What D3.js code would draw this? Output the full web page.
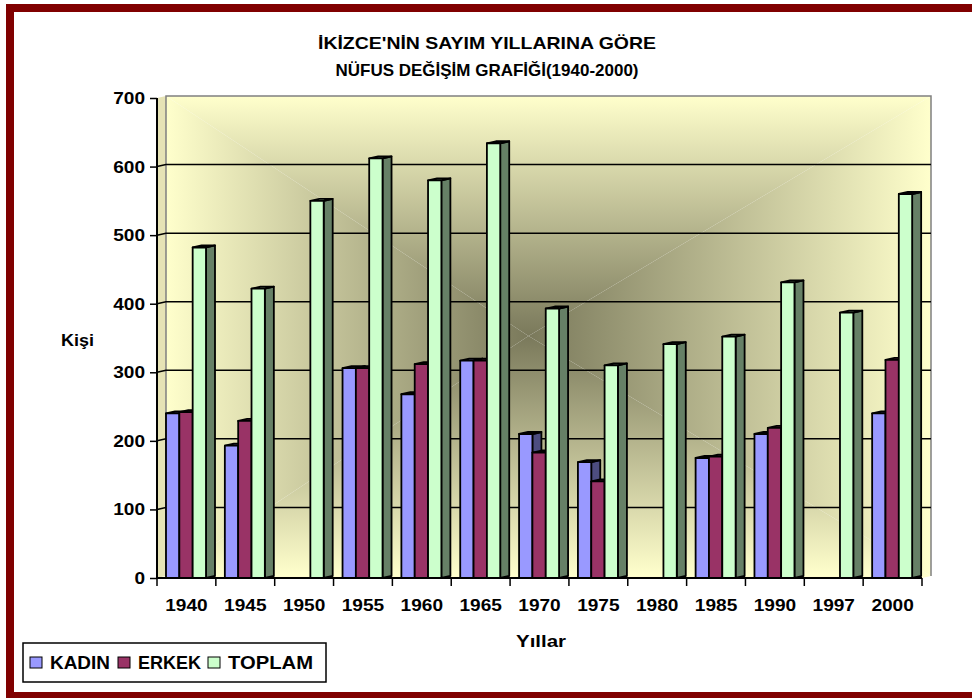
<!DOCTYPE html>
<html>
<head>
<meta charset="utf-8">
<script src="https://cdn.jsdelivr.net/npm/d3@7"></script>
<style>
  body { margin: 0; background: #fff; }
  text { font-family: "Liberation Sans", Arial, sans-serif; font-weight: bold; fill: #000; }
</style>
</head>
<body>
<div id="chart"></div>
<script>
// data
var years  = ["1940", "1945", "1950", "1955", "1960", "1965", "1970", "1975", "1980", "1985", "1990", "1997", "2000"];
var kadin  = [240, 193, null, 306, 268, 317, 210, 169, null, 175, 210, null, 240];
var erkek  = [242, 229, null, 306, 312, 317, 183, 141, null, 177, 219, null, 318];
var toplam = [482, 422, 550, 612, 580, 634, 393, 310, 341, 352, 431, 387, 560];
var seriesNames = ["KADIN", "ERKEK", "TOPLAM"];
var yTicks = [0, 100, 200, 300, 400, 500, 600, 700];

var width = 972, height = 698;
var dx = 9, dy = -2;          // 3d depth offset

var svg = d3.select("#chart").append("svg")
    .attr("width", width)
    .attr("height", height);

var x = d3.scaleBand().domain(years).range([157, 922]);
var xs = d3.scaleBand().domain(seriesNames).range([9, 49]);
var y = d3.scaleLinear().domain([0, 700]).range([578, 98]);

var front = d3.scaleOrdinal().domain(seriesNames).range(["#9999ff", "#993366", "#ccffcc"]);
var side  = d3.scaleOrdinal().domain(seriesNames).range(["#4d4d80", "#4d1a33", "#668066"]);
var top_  = d3.scaleOrdinal().domain(seriesNames).range(["#7373bf", "#73264d", "#99bf99"]);

// text is drawn a bit wider than Liberation gives, like the excel original
function fit(sel, perChar) {
  sel.attr("textLength", function() { return this.textContent.length * perChar; })
     .attr("lengthAdjust", "spacingAndGlyphs");
}

// walls
var x0 = 157 + dx, x1 = 922 + dx, yt = y(700) + dy, yb = y(0) + dy;
var cx = (x0 + x1) / 2 - 20, cy = (yt + yb) / 2;
var defs = svg.append("defs");
function grad(id, ax, ay, bx, by) {
  var g = defs.append("linearGradient").attr("id", id)
      .attr("gradientUnits", "userSpaceOnUse")
      .attr("x1", ax).attr("y1", ay).attr("x2", bx).attr("y2", by);
  g.append("stop").attr("offset", 0).attr("stop-color", "#7a795b");
  g.append("stop").attr("offset", 1).attr("stop-color", "#ffffcc");
}
grad("gTop", cx, cy, cx, yt);
grad("gBot", cx, cy, cx, yb);
grad("gLeft", cx, cy, x0, cy);
grad("gRight", cx, cy, x1, cy);

var wall = svg.append("g");
wall.append("path").attr("d", d3.line()([[x0, yt], [x1, yt], [cx, cy]])).attr("fill", "url(#gTop)");
wall.append("path").attr("d", d3.line()([[x0, yb], [x1, yb], [cx, cy]])).attr("fill", "url(#gBot)");
wall.append("path").attr("d", d3.line()([[x0, yt], [x0, yb], [cx, cy]])).attr("fill", "url(#gLeft)");
wall.append("path").attr("d", d3.line()([[x1, yt], [x1, yb], [cx, cy]])).attr("fill", "url(#gRight)");
// side wall and floor
wall.append("path").attr("d", d3.line()([[157, y(700)], [x0, yt], [x0, yb], [157, y(0)]]) + "Z")
    .attr("fill", "#e6e3b5");
wall.append("path").attr("d", d3.line()([[157, y(0)], [x0, yb], [x1, yb], [922, y(0)]]) + "Z")
    .attr("fill", "#fffccc");
wall.append("path").attr("d", d3.line()([[x0, yb], [x0, yt], [x1, yt], [x1, yb]]))
    .attr("fill", "none").attr("stroke", "#808080").attr("stroke-width", 1.5);

// gridlines
svg.append("g").selectAll("path").data(yTicks.slice(1, -1)).enter().append("path")
    .attr("d", function(d) { return d3.line()([[157, y(d)], [x0, y(d) + dy], [x1, y(d) + dy]]); })
    .attr("fill", "none").attr("stroke", "#000").attr("stroke-width", 1.5);

// bars
var rows = years.map(function(yr, i) {
  return { year: yr, vals: [kadin[i], erkek[i], toplam[i]] };
});
var bw = xs.bandwidth();
var groups = svg.append("g").selectAll("g").data(rows).enter().append("g")
    .attr("transform", function(d) { return "translate(" + x(d.year) + ",0)"; });
groups.each(function(row) {
  var g = d3.select(this);
  seriesNames.forEach(function(s, k) {
    var v = row.vals[k];
    if (v == null) return;
    var bx = xs(s), by = y(v), b0 = y(0);
    var st = { "stroke": "#000", "stroke-width": 1.8, "stroke-linejoin": "round" };
    var p1 = g.append("path").attr("d", d3.line()([[bx + bw, by], [bx + bw + dx, by + dy], [bx + bw + dx, b0 + dy], [bx + bw, b0]]) + "Z")
        .attr("fill", side(s));
    var p2 = g.append("path").attr("d", d3.line()([[bx, by], [bx + dx, by + dy], [bx + bw + dx, by + dy], [bx + bw, by]]) + "Z")
        .attr("fill", top_(s));
    var p3 = g.append("rect").attr("x", bx).attr("y", by).attr("width", bw).attr("height", b0 - by)
        .attr("fill", front(s));
    [p1, p2, p3].forEach(function(p) { for (var a in st) p.attr(a, st[a]); });
  });
});

// axes
var yAxis = svg.append("g").attr("transform", "translate(157,0)")
    .call(d3.axisLeft(y).tickValues(yTicks).tickSize(7).tickPadding(5));
var xAxis = svg.append("g").attr("transform", "translate(0," + y(0) + ")")
    .call(d3.axisBottom(x).tickSize(0).tickPadding(21));
svg.selectAll(".domain").attr("stroke", "#000").attr("stroke-width", 2);
yAxis.selectAll("line").attr("stroke", "#000").attr("stroke-width", 1.5);
svg.selectAll(".tick text").style("font-size", "17px")
    .style("font-family", "Liberation Sans, Arial, sans-serif").style("font-weight", "bold");
fit(svg.selectAll(".tick text"), 10.6);
yAxis.select(".domain").attr("d", "M0," + y(700) + "V" + y(0));
xAxis.select(".domain").attr("d", "M157,0H922");
// category boundary ticks
xAxis.append("g").selectAll("line").data(years.concat(["end"])).enter().append("line")
    .attr("x1", function(d, i) { return 157 + i * x.step(); })
    .attr("x2", function(d, i) { return 157 + i * x.step(); })
    .attr("y1", 0).attr("y2", 8)
    .attr("stroke", "#000").attr("stroke-width", 1.5);

// titles
svg.append("text").attr("x", 487).attr("y", 49).attr("text-anchor", "middle")
    .attr("textLength", 338).attr("lengthAdjust", "spacingAndGlyphs")
    .style("font-size", "17px").text("İKİZCE'NİN SAYIM YILLARINA GÖRE");
svg.append("text").attr("x", 487).attr("y", 76).attr("text-anchor", "middle")
    .attr("textLength", 303).attr("lengthAdjust", "spacingAndGlyphs")
    .style("font-size", "17px").text("NÜFUS DEĞİŞİM GRAFİĞİ(1940-2000)");
svg.append("text").attr("x", 541).attr("y", 647).attr("text-anchor", "middle")
    .attr("textLength", 50).attr("lengthAdjust", "spacingAndGlyphs")
    .style("font-size", "17px").text("Yıllar");
svg.append("text").attr("x", 61).attr("y", 346)
    .attr("textLength", 33).attr("lengthAdjust", "spacingAndGlyphs")
    .style("font-size", "17px").text("Kişi");

// legend
var leg = svg.append("g").attr("transform", "translate(23,643)");
leg.append("rect").attr("width", 303).attr("height", 39).attr("fill", "#fff")
    .attr("stroke", "#000").attr("stroke-width", 1.5);
var legX = [7, 95, 185];
var legW = [60, 63, 85];
var item = leg.selectAll("g").data(seriesNames).enter().append("g")
    .attr("transform", function(d, i) { return "translate(" + legX[i] + ",14)"; });
item.append("rect").attr("width", 12).attr("height", 11)
    .attr("fill", function(d) { return front(d); }).attr("stroke", "#000").attr("stroke-width", 1);
item.append("text").attr("x", 20).attr("y", 12).style("font-size", "18px")
    .attr("textLength", function(d, i) { return legW[i]; }).attr("lengthAdjust", "spacingAndGlyphs")
    .text(function(d) { return d; });

// frame
var frame = svg.append("g").attr("fill", "#800000");
frame.append("rect").attr("x", 6).attr("y", 4).attr("width", width - 6).attr("height", 8);
frame.append("rect").attr("x", 6).attr("y", 4).attr("width", 8).attr("height", height - 4);
frame.append("rect").attr("x", 6).attr("y", 692).attr("width", width - 6).attr("height", 6);
</script>
</body>
</html>
